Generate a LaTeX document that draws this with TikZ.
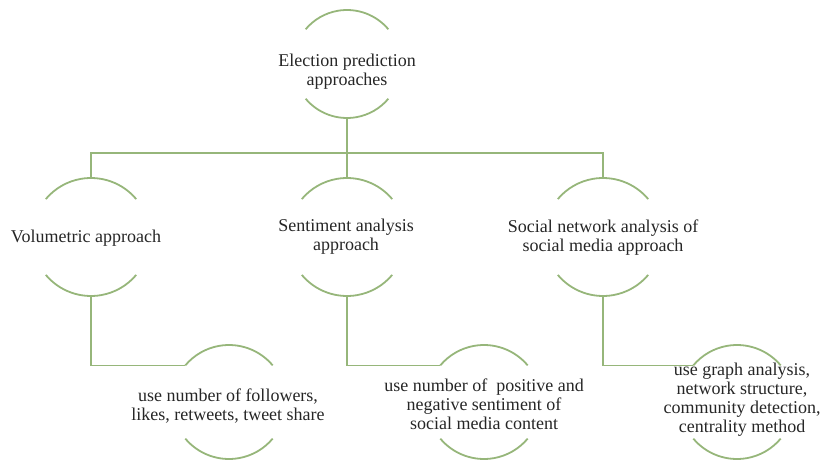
\documentclass[tikz,border=0pt]{standalone}
\usepackage{fontspec}
\setmainfont{Liberation Serif}
\definecolor{sage}{RGB}{150,182,122}
\tikzset{
  arcline/.style={draw=sage, line width=1.8pt},
  conn/.style={draw=sage, line width=1.6pt},
  lbl/.style={align=center, inner sep=0pt, text=black!85,
    font=\fontsize{18}{19}\selectfont},
}
% name, radius, dx, dy  (arc circle centre relative to the text node)
\newcommand\ringarcs[4]{%
  \coordinate (#1-c) at ([shift={(#3pt,#4pt)}]#1.center);
  \draw[arcline] ([shift={(40:#2pt)}]#1-c) arc[start angle=40,end angle=140,radius=#2pt];
  \draw[arcline] ([shift={(220:#2pt)}]#1-c) arc[start angle=220,end angle=320,radius=#2pt];
  \coordinate (#1-t) at ([shift={(90:#2pt)}]#1-c);
  \coordinate (#1-b) at ([shift={(270:#2pt)}]#1-c);
  \coordinate (#1-tl) at ([shift={(140:#2pt)}]#1-c);
}
\begin{document}
\begin{tikzpicture}[x=1pt,y=1pt]
\useasboundingbox (0,0) rectangle (824,461);
% level 1
\node[lbl] (top) at (347,389) {Election prediction\\approaches};
% level 2
\node[lbl] (vol) at (86,223) {Volumetric approach};
\node[lbl] (sent) at (346,224) {Sentiment analysis\\approach};
\node[lbl] (soc) at (603,223) {Social network analysis of\\social media approach};
% level 3
\node[lbl] (volc) at (228,55) {use number of followers,\\likes, retweets, tweet share};
\node[lbl] (sentc) at (484,57) {use number of\ \ positive and\\negative sentiment of\\social media content};
\node[lbl] (socc) at (742,61) {use graph analysis,\\network structure,\\community detection,\\centrality method};
% arcs
\ringarcs{top}{54}{0}{8}
\ringarcs{vol}{59}{5}{1}
\ringarcs{sent}{59}{1}{0}
\ringarcs{soc}{59}{0}{1}
\ringarcs{volc}{57}{1}{4}
\ringarcs{sentc}{57}{0}{2}
\ringarcs{socc}{57}{-5}{-2}
% connectors
\coordinate (bar) at (0,308);
\draw[conn] (top-b) -- (sent-t);
\draw[conn] (vol-t) -- (vol-t |- bar) -- (soc-t |- bar) -- (soc-t);
\draw[conn] (vol-b) |- (volc-tl);
\draw[conn] (sent-b) |- (sentc-tl);
\draw[conn] (soc-b) |- (socc-tl);
\end{tikzpicture}
\end{document}
